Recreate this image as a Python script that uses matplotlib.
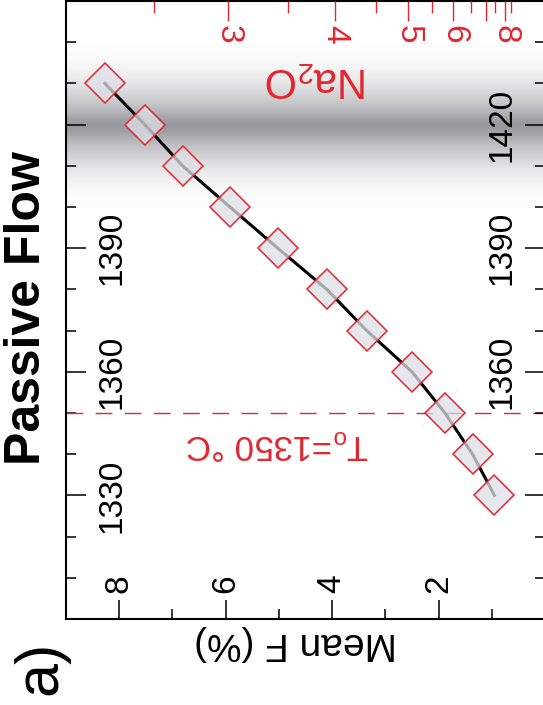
import numpy as np
import matplotlib
matplotlib.use("Agg")
import matplotlib.pyplot as plt

plt.rcParams['font.family'] = ['Liberation Sans', 'DejaVu Sans']
plt.rcParams['mathtext.fontset'] = 'custom'
plt.rcParams['mathtext.rm'] = 'Liberation Sans'
plt.rcParams['mathtext.it'] = 'Liberation Sans:italic'

# ---------------- data ----------------
temperature = [1330, 1340, 1350, 1360, 1370, 1380, 1390, 1400, 1410, 1420, 1430]
mean_f = [0.95, 1.36, 1.88, 2.50, 3.35, 4.10, 5.02, 5.92, 6.81, 7.52, 8.27]

f_major = [8, 6, 4, 2]
f_major_labels = ["8", "6", "4", "2"]
f_minor = [7, 5, 3, 1]

t_major = [1330, 1360, 1390, 1420]
t_left_labels = ["1330", "1360", "1390", ""]
t_right_labels = ["", "1360", "1390", "1420"]
t_minor = [1310, 1320, 1340, 1350, 1370, 1380, 1400, 1410, 1430, 1440]

# Na2O axis (top): tick positions expressed in Mean F
na2o_major_f = [5.96, 3.955, 2.57, 1.72, 1.11, 0.76]
na2o_major_labels = ["3", "4", "5", "6", "", "8"]
na2o_minor_f = [7.35, 4.83, 3.17, 2.12, 1.39, 0.94, 0.64]

t_initial = 1350
band_center = 1419.5

RED = '#e3262f'

fig = plt.figure(figsize=(5.43, 7.05), dpi=100)
ax = fig.add_axes([66/543, 86/705, (545-66)/543, 618/705])

# gray gradient band (constant gray, varying opacity)
tt = np.linspace(1380, 1460, 600)
d = tt - band_center
alpha = (0.30*np.exp(-(d/10.0)**2) + 0.10*np.exp(-(d/3.0)**2)) / 0.45
rgba = np.zeros((len(tt), 1, 4))
rgba[:, 0, 0] = 0.55
rgba[:, 0, 1] = 0.55
rgba[:, 0, 2] = 0.58
rgba[:, 0, 3] = np.clip(alpha, 0, 1)
ax.imshow(rgba, extent=(9, 0, 1380, 1460), origin='lower', aspect='auto',
          interpolation='bilinear', zorder=0)

ax.axhline(t_initial, color=RED, lw=1.0, dashes=(12, 9), zorder=2)

ax.plot(mean_f, temperature, color='black', lw=2.2, zorder=3)
ax.plot(mean_f, temperature, ls='none', marker='D', ms=20.5,
        mfc=(0.87, 0.88, 0.91, 0.75), mec=RED, mew=1.1, zorder=4)

ax.set_xlim(9, 0)
ax.set_ylim(1300, 1450)

for s in ax.spines.values():
    s.set_linewidth(1.5)

# bottom axis
ax.set_xticks(f_major)
ax.set_xticklabels(f_major_labels)
ax.set_xticks(f_minor, minor=True)
ax.tick_params(axis='x', which='major', direction='in', length=14, width=1.1,
               labelsize=24, labelrotation=90, pad=-32, top=False)
ax.tick_params(axis='x', which='minor', direction='in', length=7, width=1.1, top=False)

# left axis
ax.set_yticks(t_major)
ax.set_yticklabels(t_left_labels)
ax.set_yticks(t_minor, minor=True)
ax.tick_params(axis='y', which='major', direction='in', length=14.4, width=1.1,
               labelsize=24, labelrotation=90, pad=-44, right=False)
ax.tick_params(axis='y', which='minor', direction='in', length=7, width=1.1, right=False)
for lab in ax.get_yticklabels():
    lab.set_va('center')

# right axis
axr = ax.twinx()
axr.set_ylim(1300, 1450)
axr.set_yticks(t_major)
axr.set_yticklabels(t_right_labels)
axr.set_yticks(t_minor, minor=True)
axr.tick_params(axis='y', which='major', direction='in', length=14.4, width=1.1,
                labelsize=24, labelrotation=90, pad=-42)
axr.tick_params(axis='y', which='minor', direction='in', length=7, width=1.1)
for lab in axr.get_yticklabels():
    lab.set_va('center')
for s in axr.spines.values():
    s.set_visible(False)

# top Na2O axis
axt = ax.twiny()
axt.set_xlim(9, 0)
axt.set_xticks(na2o_major_f)
axt.set_xticklabels(na2o_major_labels)
axt.set_xticks(na2o_minor_f, minor=True)
axt.tick_params(axis='x', which='major', direction='in', length=14.4, width=1.0,
                colors=RED, labelsize=24, labelrotation=270, pad=-31)
axt.tick_params(axis='x', which='minor', direction='in', length=8.5, width=1.0,
                colors=RED)
for s in axt.spines.values():
    s.set_visible(False)

# texts
ax.text(4.3, 1431, 'Na$_2$O', color=RED, fontsize=30, rotation=180,
        ha='center', va='center')
ax.text(5.03, 1342.5, r'T$_\mathrm{o}$=1350 °C', color=RED, fontsize=25,
        rotation=180, ha='center', va='center')
fig.text(296/543, 1-643/705, 'Mean F (%)', fontsize=28, rotation=180,
         ha='center', va='center')
fig.text(27/543, 1-308/705, 'Passive Flow', fontsize=36, fontweight='bold',
         rotation=90, ha='center', va='center')
fig.text(41/543, 1-668/705, 'a)', fontsize=44, rotation=90,
         ha='center', va='center')

fig.savefig('out.png', dpi=100)
